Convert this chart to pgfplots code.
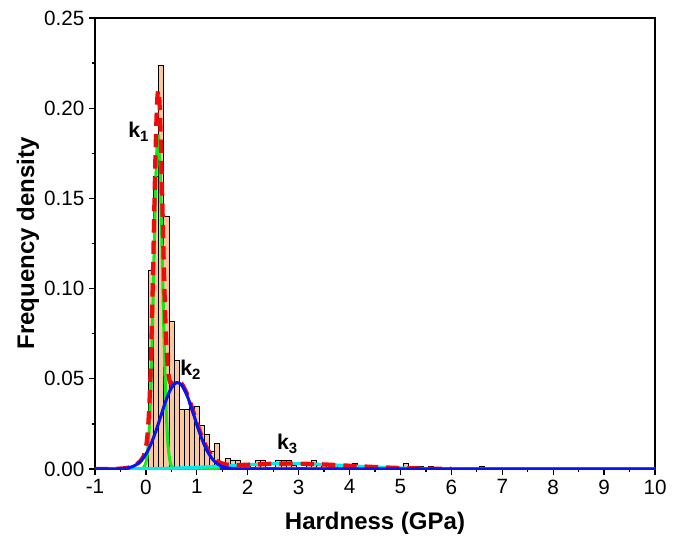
\documentclass[border=0pt]{standalone}
\usepackage{fontspec}
\setmainfont{Liberation Sans}
\usepackage{pgfplots}
\pgfplotsset{compat=1.18}

\definecolor{barfill}{RGB}{250,200,160}
\definecolor{kone}{RGB}{20,235,20}
\definecolor{ktwo}{RGB}{10,20,240}
\definecolor{kthree}{RGB}{0,235,240}
\definecolor{fitsum}{RGB}{240,10,10}

\begin{document}
\begin{tikzpicture}
% page frame, same margins as the reference
\path (-71.25pt,-51.75pt) rectangle (439.5pt,351.75pt);
\begin{axis}[
    at={(0,0)}, anchor=south west,
    scale only axis, width=420pt, height=338.25pt,
    xmin=-1, xmax=10, ymin=0, ymax=0.25,
    xtick={-1,0,1,2,3,4,5,6,7,8,9,10}, minor x tick num=1,
    ytick={0,0.05,0.1,0.15,0.2,0.25}, minor y tick num=1,
    tick align=outside, tick pos=left,
    major tick length=4.5pt, minor tick length=2.5pt,
    axis line style={line width=1pt},
    tick style={black, line width=0.9pt},
    ticklabel style={font=\fontsize{15.5}{18}\selectfont},
    /pgf/number format/assume math mode=true,
    yticklabel style={/pgf/number format/.cd, fixed, fixed zerofill, precision=2},
    xlabel={Hardness (GPa)},
    ylabel={Frequency density},
    label style={font=\bfseries\fontsize{18}{21}\selectfont},
    xlabel style={at={(axis description cs:0.5,-0.12)}, anchor=center},
    ylabel style={at={(axis description cs:-0.12,0.5)}, anchor=center},
]
% histogram, bin width 0.1
\addplot[ybar, bar width=0.1, fill=barfill, draw=black, line width=0.4pt] coordinates {
    (0.1,0.110) (0.2,0.162) (0.3,0.224) (0.4,0.140) (0.5,0.082) (0.6,0.060)
    (0.7,0.033) (0.8,0.033) (0.9,0.034) (1.0,0.035) (1.1,0.024) (1.2,0.019)
    (1.3,0.010) (1.4,0.014) (1.5,0.004) (1.6,0.006) (1.7,0.005) (1.8,0.005)
    (1.9,0.002) (2.0,0.002) (2.1,0.001) (2.2,0.005) (2.3,0.005) (2.4,0.001)
    (2.5,0.001) (2.6,0.005) (2.7,0.005) (2.8,0.005) (2.9,0.002) (3.0,0.001)
    (3.1,0.001) (3.2,0.002) (3.3,0.005) (3.4,0.002) (3.5,0.002) (3.6,0.001)
    (3.7,0.001) (3.8,0.002) (3.9,0.001) (4.1,0.003) (4.2,0.001) (4.5,0.001)
    (5.1,0.003) (5.3,0.0013) (5.4,0.0013) (5.6,0.0015) (6.6,0.0015)
};
% k1 component
\addplot[kone, line width=2.3pt, smooth] coordinates {
    (-1,0) (-0.2,0) (-0.1,0.00006) (-0.05,0.00055) (0,0.00344) (0.025,0.00755)
    (0.05,0.01522) (0.075,0.02812) (0.1,0.04766) (0.125,0.07407) (0.15,0.10562)
    (0.175,0.1381) (0.2,0.16561) (0.225,0.18215) (0.25,0.18373) (0.275,0.16996)
    (0.3,0.14421) (0.325,0.11221) (0.35,0.08011) (0.375,0.05241) (0.4,0.03145)
    (0.425,0.01732) (0.45,0.00875) (0.475,0.00405) (0.5,0.00172) (0.55,0.00024)
    (0.6,0.00002) (0.7,0) (10,0)
};
% k3 component
\addplot[kthree, line width=2.3pt, smooth] coordinates {
    (-1,0.00002) (0,0.0002) (0.5,0.00048) (1,0.00097) (1.5,0.00167) (2,0.0024)
    (2.5,0.00291) (2.8,0.003) (3,0.00296) (3.5,0.00253) (4,0.00182) (4.5,0.0011)
    (5,0.00056) (5.5,0.00024) (6,0.00009) (6.5,0.00003) (7,0.00001) (10,0)
};
% cumulative fit
\addplot[fitsum, line width=3.2pt, dash pattern=on 10pt off 6pt, smooth] coordinates {
    (-1,0.00002) (-0.6,0.0001) (-0.4,0.00047) (-0.3,0.00108) (-0.2,0.0023)
    (-0.1,0.00466) (-0.05,0.00683) (0,0.01186) (0.025,0.01721) (0.05,0.02625)
    (0.075,0.04063) (0.1,0.06179) (0.125,0.08993) (0.15,0.12331) (0.175,0.15773)
    (0.2,0.18727) (0.225,0.20593) (0.25,0.20967) (0.275,0.1981) (0.3,0.17458)
    (0.325,0.14478) (0.35,0.11486) (0.375,0.08926) (0.4,0.0703) (0.425,0.05807)
    (0.45,0.05123) (0.475,0.0481) (0.5,0.04713) (0.55,0.04768) (0.6,0.04844)
    (0.7,0.04726) (0.8,0.04212) (0.9,0.03435) (1.0,0.0257) (1.1,0.01777)
    (1.2,0.01147) (1.3,0.00712) (1.4,0.00446) (1.5,0.00304) (1.6,0.0024)
    (1.8,0.0022) (2.0,0.0024) (2.5,0.00291) (3.0,0.00296) (3.5,0.00253)
    (4.0,0.00182) (4.5,0.0011) (5.0,0.00056) (5.5,0.00024) (6.0,0.00009)
};
% k2 component
\addplot[ktwo, line width=2.3pt, smooth] coordinates {
    (-1,0) (-0.6,0.00005) (-0.4,0.0004) (-0.3,0.00099) (-0.2,0.00219)
    (-0.1,0.00445) (0,0.00822) (0.1,0.01387) (0.2,0.02135) (0.3,0.03)
    (0.4,0.03843) (0.5,0.04493) (0.6,0.0479) (0.7,0.04661) (0.8,0.04137)
    (0.9,0.03349) (1.0,0.02473) (1.1,0.01667) (1.2,0.01024) (1.3,0.00575)
    (1.4,0.00294) (1.5,0.00137) (1.6,0.00058) (1.8,0.00008) (2.0,0) (10,0)
};
\node[font=\bfseries\fontsize{16}{18}\selectfont] at (axis cs:-0.14,0.187) {k\textsubscript{1}};
\node[font=\bfseries\fontsize{16}{18}\selectfont] at (axis cs:0.88,0.055) {k\textsubscript{2}};
\node[font=\bfseries\fontsize{16}{18}\selectfont] at (axis cs:2.78,0.014) {k\textsubscript{3}};
\end{axis}
\end{tikzpicture}
\end{document}
